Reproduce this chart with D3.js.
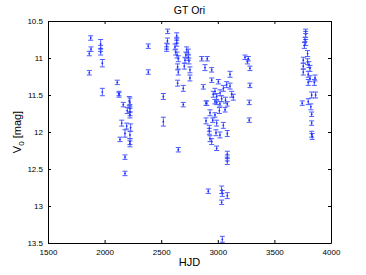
<!DOCTYPE html>
<html lang="en">
<head>
<meta charset="UTF-8">
<title>GT Ori</title>
<script src="https://d3js.org/d3.v7.min.js"></script>
<style>
  body { margin: 0; background: white; }
  text { font-family: "Liberation Sans", Arial, sans-serif; }
</style>
</head>
<body>
<svg id="main" width="366" height="275"></svg>
<script>
let hjd = [1877, 1965, 1965, 1880, 1865, 1965, 1980, 1865, 2112, 1980, 2127, 2127, 2218, 2165,
  2224, 2224, 2224, 2224, 2200, 2151, 2195, 2230, 2180, 2224, 2224, 2224, 2136, 2180, 2180,
  2386, 2386, 2557, 2555, 2548, 2548, 2637, 2637, 2637, 2622, 2628, 2640, 2651, 2725, 2740,
  2718, 2740, 2710, 2745, 2645, 2651, 2704, 2754, 2754, 2645, 2695, 2519, 2695, 2519, 2651,
  2858, 2907, 2887, 2946, 3108, 2946, 3005, 3078, 3108, 2872, 3049, 2975, 2960, 3020, 3123,
  2990, 3034, 3068, 2975, 2896, 3137, 3240, 3269, 3262, 3284, 3284, 3278,
  2902, 2990, 3019, 3084, 2931, 2975, 3014, 3064, 2896, 2955, 2990, 3049, 2925, 2925, 2984,
  3019, 3084, 2931, 2946, 2990, 3084, 3084, 3084, 3278,
  2916, 3034, 3040, 3084, 3034, 3040,
  3776, 3776, 3770, 3776, 3765, 3793, 3755, 3793, 3755, 3805, 3814, 3755, 3799, 3814, 3859,
  3853, 3799, 3829, 3864, 3746, 3799, 3822, 3829, 3829, 3829, 3834];
let v0 = [10.73, 10.81, 10.87, 10.88, 10.94, 10.92, 11.07, 11.20, 11.33, 11.46, 11.48, 11.50, 11.58, 11.63,
  11.60, 11.68, 11.73, 11.77, 11.71, 11.88, 11.92, 11.94, 12.02, 12.04, 12.13, 12.16, 12.10, 12.34, 12.56,
  10.84, 11.19, 10.64, 10.77, 10.84, 10.88, 10.70, 10.76, 10.80, 10.85, 10.92, 10.96, 11.01, 10.89, 10.92,
  10.96, 10.99, 11.03, 11.04, 11.12, 11.19, 11.11, 11.16, 11.27, 11.34, 11.41, 11.52, 11.63, 11.86, 12.24,
  11.01, 11.01, 11.13, 11.16, 11.22, 11.30, 11.32, 11.36, 11.38, 11.39, 11.41, 11.45, 11.49, 11.47, 11.49,
  11.52, 11.55, 11.57, 11.59, 11.61, 11.53, 10.99, 11.01, 11.05, 11.14, 11.37, 11.60,
  11.61, 11.60, 11.62, 11.62, 11.74, 11.77, 11.71, 11.70, 11.85, 11.84, 11.88, 11.91, 11.95, 11.99, 12.01,
  12.04, 12.02, 12.09, 12.13, 12.22, 12.30, 12.35, 12.40, 11.84,
  12.80, 12.78, 12.83, 12.86, 12.95, 13.45,
  10.64, 10.68, 10.75, 10.79, 10.83, 10.94, 11.03, 11.05, 11.11, 11.09, 11.14, 11.19, 11.22, 11.28, 11.27,
  11.33, 11.33, 11.50, 11.50, 11.61, 11.59, 11.66, 11.76, 11.88, 12.03, 12.06];
let err = [0.03, 0.06, 0.04, 0.03, 0.03, 0.04, 0.05, 0.03, 0.03, 0.05, 0.03, 0.03, 0.06, 0.03,
  0.06, 0.05, 0.05, 0.04, 0.04, 0.04, 0.04, 0.05, 0.05, 0.05, 0.04, 0.04, 0.03, 0.03, 0.03,
  0.03, 0.03, 0.03, 0.04, 0.04, 0.03, 0.04, 0.04, 0.04, 0.04, 0.04, 0.04, 0.04, 0.04, 0.04,
  0.04, 0.04, 0.04, 0.04, 0.04, 0.04, 0.04, 0.04, 0.04, 0.04, 0.04, 0.04, 0.03, 0.06, 0.03,
  0.03, 0.03, 0.04, 0.03, 0.04, 0.03, 0.03, 0.04, 0.04, 0.03, 0.04, 0.04, 0.04, 0.04, 0.04,
  0.04, 0.04, 0.04, 0.03, 0.03, 0.04, 0.03, 0.03, 0.03, 0.03, 0.03, 0.03,
  0.03, 0.03, 0.03, 0.03, 0.04, 0.03, 0.04, 0.03, 0.04, 0.03, 0.04, 0.04, 0.04, 0.04, 0.04,
  0.04, 0.04, 0.04, 0.04, 0.03, 0.04, 0.04, 0.04, 0.03,
  0.03, 0.05, 0.04, 0.04, 0.03, 0.04,
  0.03, 0.04, 0.03, 0.04, 0.04, 0.04, 0.04, 0.04, 0.04, 0.04, 0.04, 0.04, 0.04, 0.04, 0.04,
  0.04, 0.04, 0.04, 0.04, 0.03, 0.04, 0.04, 0.03, 0.03, 0.04, 0.04];
let xTicks = [1500, 2000, 2500, 3000, 3500, 4000];
let yTicks = [10.5, 11, 11.5, 12, 12.5, 13, 13.5];

let svg = d3.select('svg#main');
let box = {left: 48, right: 331, top: 21, bottom: 243};

let x = d3.scaleLinear().domain([1500, 4000]).range([box.left, box.right]);
let y = d3.scaleLinear().domain([10.5, 13.5]).range([box.top, box.bottom]);

let data = hjd.map(function (d, i) { return {t: d, v: v0[i], e: err[i]}; });

// axes, matlab style: ticks inward on all four sides
svg.append('g').attr('transform', 'translate(0,' + box.bottom + ')')
  .call(d3.axisBottom(x).tickValues(xTicks).tickSizeInner(-3).tickSizeOuter(0).tickPadding(6).tickFormat(d3.format('')));
svg.append('g').attr('transform', 'translate(0,' + box.top + ')')
  .call(d3.axisTop(x).tickValues(xTicks).tickSizeInner(-3).tickSizeOuter(0).tickFormat(''));
svg.append('g').attr('transform', 'translate(' + box.left + ',0)')
  .call(d3.axisLeft(y).tickValues(yTicks).tickSizeInner(-3).tickSizeOuter(0).tickPadding(5).tickFormat(d3.format('')));
svg.append('g').attr('transform', 'translate(' + box.right + ',0)')
  .call(d3.axisRight(y).tickValues(yTicks).tickSizeInner(-3).tickSizeOuter(0).tickFormat(''));
svg.selectAll('.domain').attr('stroke', 'black');
svg.selectAll('.tick text').attr('font-size', 8).attr('fill', 'black')
  .attr('font-family', '"Liberation Sans", Arial, sans-serif');

// error bars
let bars = svg.append('g').attr('stroke', '#4d5cff').attr('stroke-width', 1);
bars.selectAll('line.v').data(data).enter().append('line')
  .attr('x1', function (d) { return x(d.t); }).attr('x2', function (d) { return x(d.t); })
  .attr('y1', function (d) { return y(d.v - d.e); }).attr('y2', function (d) { return y(d.v + d.e); });
bars.selectAll('line.top').data(data).enter().append('line')
  .attr('x1', function (d) { return x(d.t) - 2.5; }).attr('x2', function (d) { return x(d.t) + 2.5; })
  .attr('y1', function (d) { return y(d.v - d.e); }).attr('y2', function (d) { return y(d.v - d.e); });
bars.selectAll('line.bot').data(data).enter().append('line')
  .attr('x1', function (d) { return x(d.t) - 2.5; }).attr('x2', function (d) { return x(d.t) + 2.5; })
  .attr('y1', function (d) { return y(d.v + d.e); }).attr('y2', function (d) { return y(d.v + d.e); });
svg.append('g').selectAll('circle').data(data).enter().append('circle')
  .attr('cx', function (d) { return x(d.t); }).attr('cy', function (d) { return y(d.v); })
  .attr('r', 0.9).attr('fill', '#1a2bff');

// labels
svg.append('text').attr('x', (box.left + box.right) / 2).attr('y', 14)
  .attr('text-anchor', 'middle').attr('font-size', 10.5).text('GT Ori');
svg.append('text').attr('x', (box.left + box.right) / 2).attr('y', 266)
  .attr('text-anchor', 'middle').attr('font-size', 11).text('HJD');
let yl = svg.append('text')
  .attr('transform', 'translate(21,' + ((box.top + box.bottom) / 2) + ') rotate(-90)')
  .attr('text-anchor', 'middle').attr('font-size', 11);
yl.append('tspan').text('V');
yl.append('tspan').attr('font-size', 8).attr('dy', 3).text('0');
yl.append('tspan').attr('dy', -3).text(' [mag]');
</script>
</body>
</html>
